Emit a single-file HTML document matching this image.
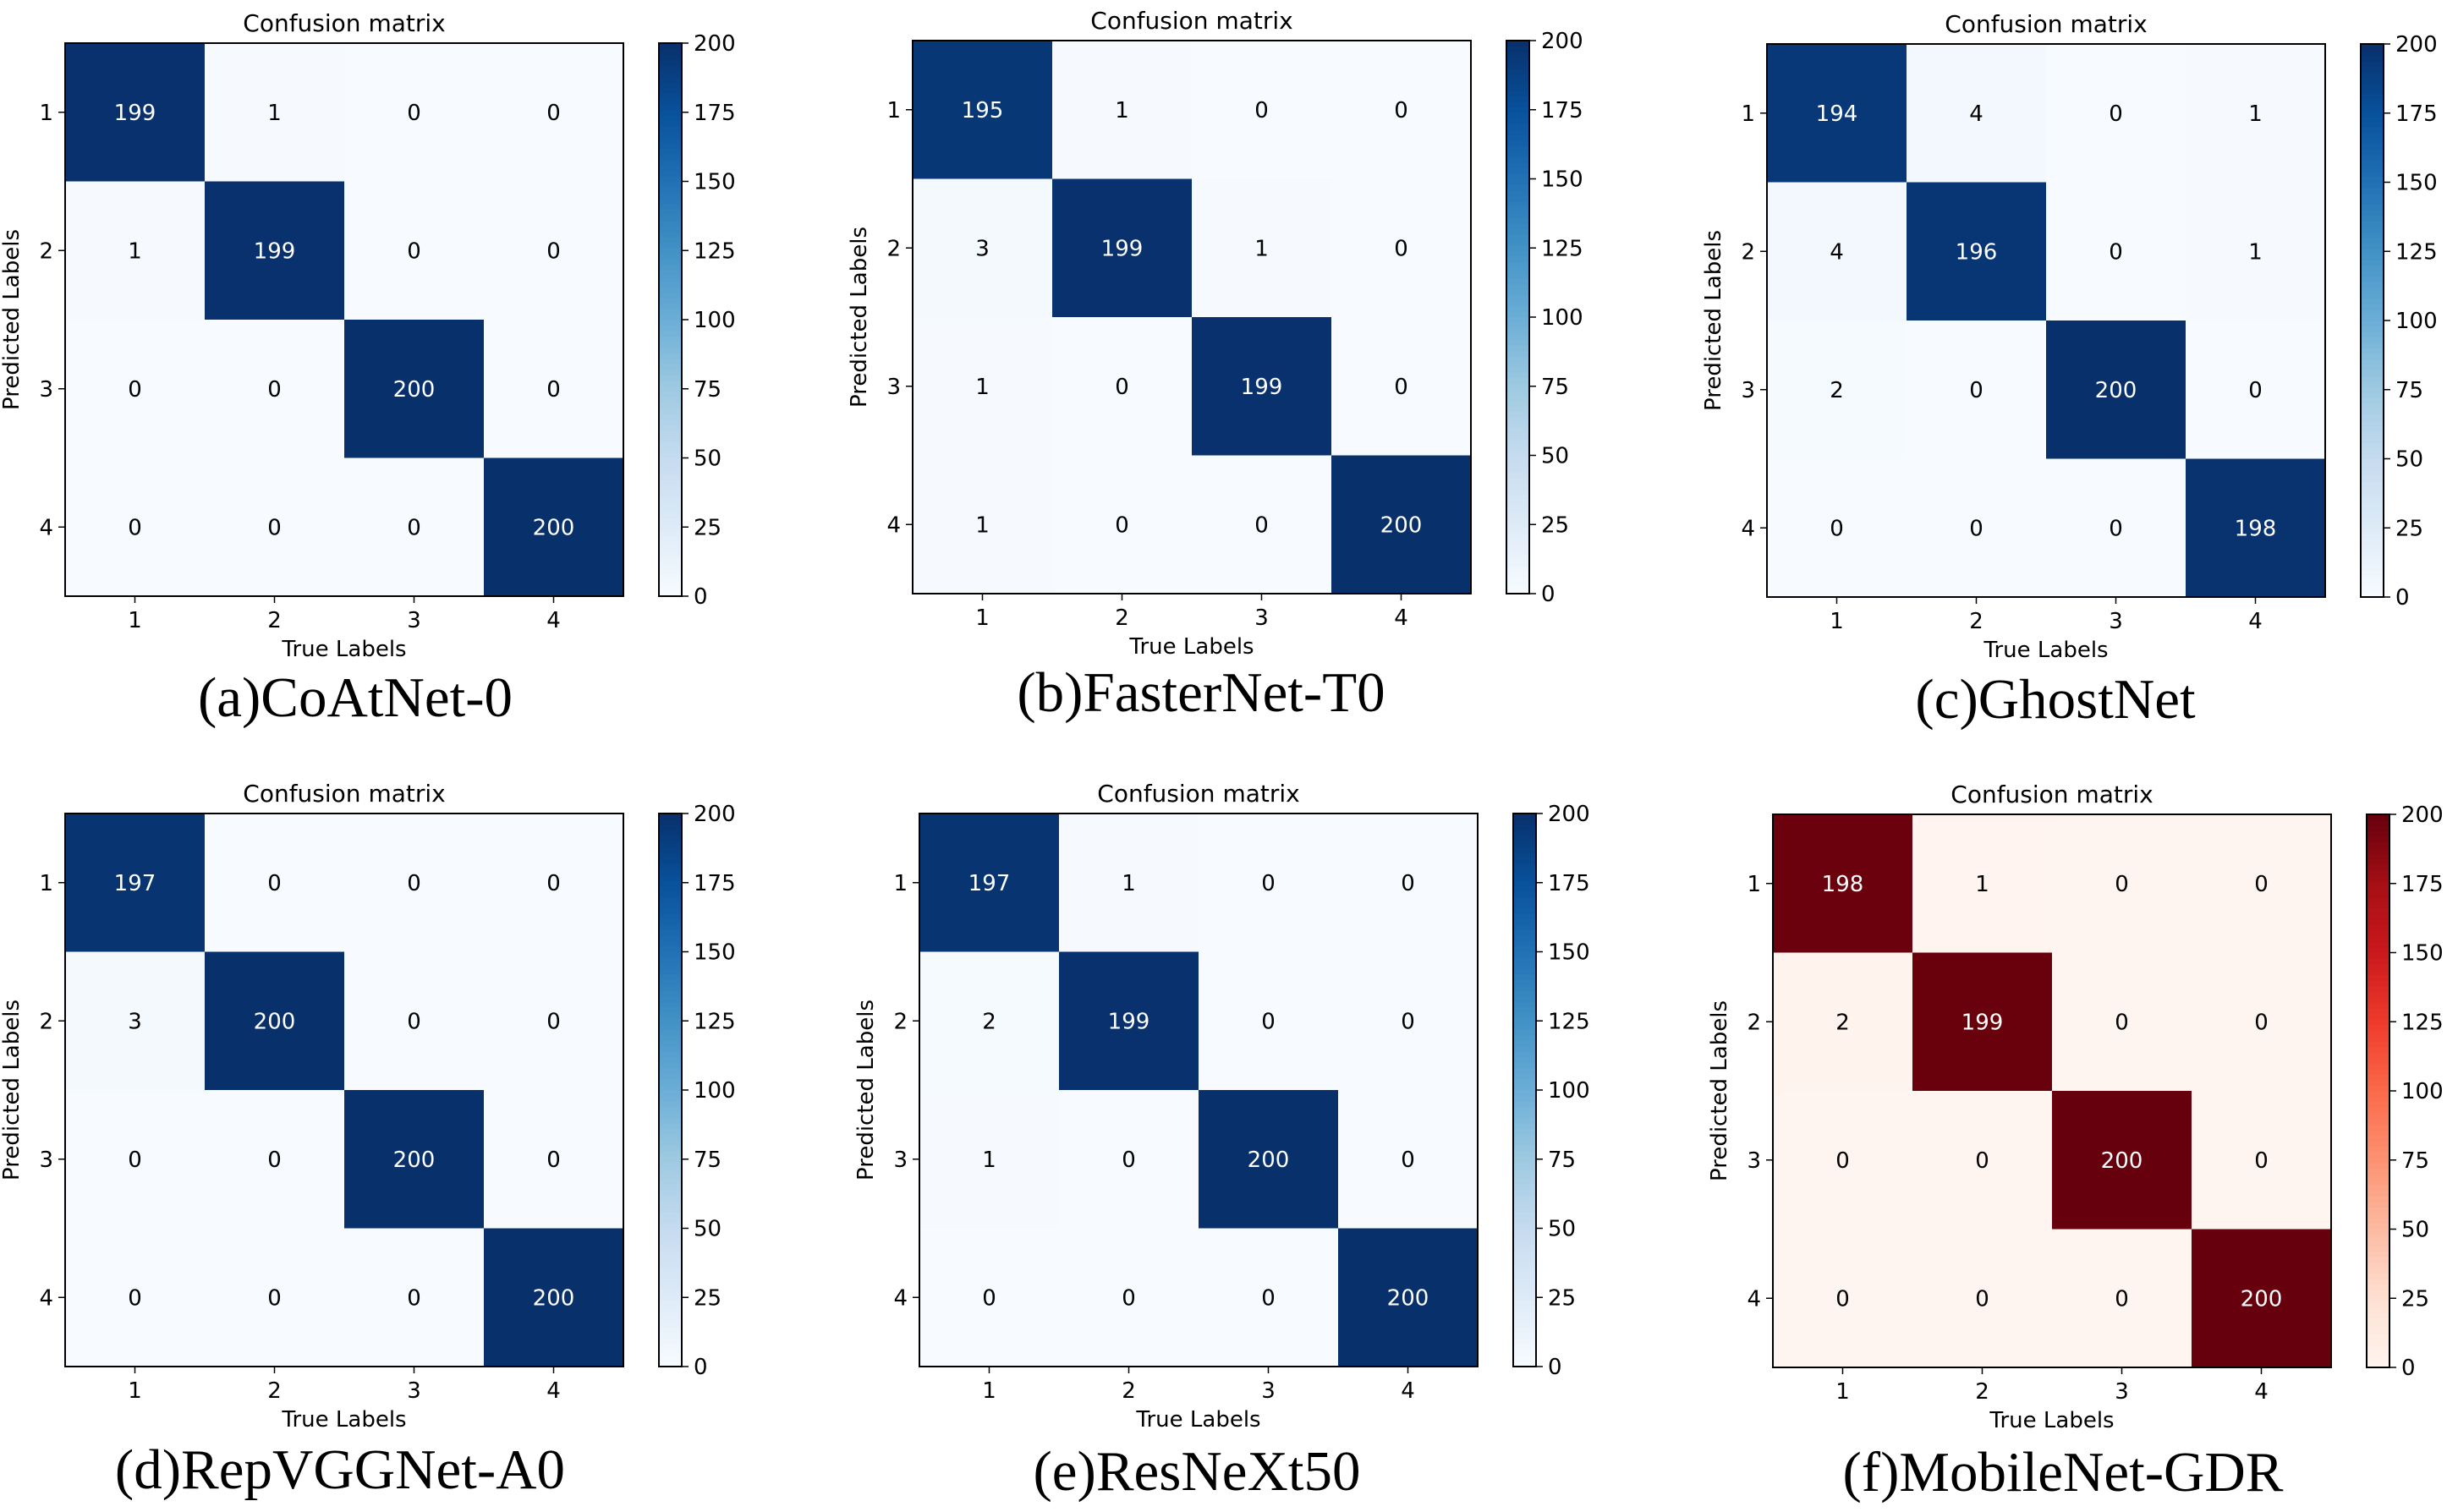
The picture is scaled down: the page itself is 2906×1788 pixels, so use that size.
<!DOCTYPE html>
<html><head><meta charset="utf-8"><style>
html,body{margin:0;padding:0;background:#fff;width:2906px;height:1788px;overflow:hidden}
svg text{font-family:"DejaVu Sans","Liberation Sans",sans-serif}
.cap{font-family:"Liberation Serif",serif !important}
</style></head><body>
<svg id="fig" width="2906" height="1788" xmlns="http://www.w3.org/2000/svg"></svg>
<script>
const categories = ["1","2","3","4"];
const cbTicks = [0,25,50,75,100,125,150,175,200];
const vmax = 200;
const matA = [[199,1,0,0],[1,199,0,0],[0,0,200,0],[0,0,0,200]];
const matB = [[195,1,0,0],[3,199,1,0],[1,0,199,0],[1,0,0,200]];
const matC = [[194,4,0,1],[4,196,0,1],[2,0,200,0],[0,0,0,198]];
const matD = [[197,0,0,0],[3,200,0,0],[0,0,200,0],[0,0,0,200]];
const matE = [[197,1,0,0],[2,199,0,0],[1,0,200,0],[0,0,0,200]];
const matF = [[198,1,0,0],[2,199,0,0],[0,0,200,0],[0,0,0,200]];
const captions = ["(a)CoAtNet-0","(b)FasterNet-T0","(c)GhostNet","(d)RepVGGNet-A0","(e)ResNeXt50","(f)MobileNet-GDR"];

const BLUES=[[247,251,255],[222,235,247],[198,219,239],[158,202,225],[107,174,214],[66,146,198],[33,113,181],[8,81,156],[8,48,107]];
const REDS=[[255,245,240],[254,224,210],[252,187,161],[252,146,114],[251,106,74],[239,59,44],[203,24,29],[165,15,21],[103,0,13]];
function cmap(stops,t){t=Math.max(0,Math.min(1,t));const s=t*(stops.length-1);const i=Math.min(Math.floor(s),stops.length-2);const f=s-i;
 const c=stops[i].map((v,k)=>Math.round(v+(stops[i+1][k]-v)*f));return `rgb(${c[0]},${c[1]},${c[2]})`;}
const NS="http://www.w3.org/2000/svg";const svg=document.getElementById('fig');
function mk(tag,attrs,parent){const e=document.createElementNS(NS,tag);for(const k in attrs)e.setAttribute(k,attrs[k]);(parent||svg).appendChild(e);return e;}

const panels=[
 {m:matA,x:77,y:51,cm:BLUES,cx:420,cy:825,id:'a'},
 {m:matB,x:1079,y:48,cm:BLUES,cx:1420,cy:819,id:'b'},
 {m:matC,x:2089,y:52,cm:BLUES,cx:2430,cy:827,id:'c'},
 {m:matD,x:77,y:962,cm:BLUES,cx:402,cy:1738,id:'d'},
 {m:matE,x:1087,y:962,cm:BLUES,cx:1415,cy:1740,id:'e'},
 {m:matF,x:2096,y:963,cm:REDS,cx:2439,cy:1741,id:'f'}];
const W=660,H=654;
panels.forEach((p,pi)=>{
 const g=mk('g',{});
 
 
 const n=categories.length,cw=W/n,ch=H/n;
 const xs=j=>p.x+j*cw, ys=i=>p.y+i*ch;
 p.m.forEach((row,i)=>row.forEach((v,j)=>{
  const r=mk('rect',{x:xs(j),y:ys(i),width:cw+0.5,height:ch+0.5,fill:cmap(p.cm,v/vmax)},g);
  
  
  const t=mk('text',{x:xs(j)+cw/2,y:ys(i)+ch/2+9,'font-size':26,'text-anchor':'middle',fill:v>vmax/2?'#fff':'#000'},g);
  t.textContent=v;
  
  
 }));
 mk('rect',{x:p.x,y:p.y,width:W,height:H,fill:'none',stroke:'#000','stroke-width':2},g);
 categories.forEach((c,k)=>{
  const tx=xs(k)+cw/2;
  mk('line',{x1:tx,x2:tx,y1:p.y+H,y2:p.y+H+8,stroke:'#000','stroke-width':1.5},g);
  const t=mk('text',{x:tx,y:p.y+H+37,'font-size':26,'text-anchor':'middle'},g);t.textContent=c;
  
  
  const ty=ys(k)+ch/2;
  mk('line',{x1:p.x-8,x2:p.x,y1:ty,y2:ty,stroke:'#000','stroke-width':1.5},g);
  const t2=mk('text',{x:p.x-14,y:ty+9,'font-size':26,'text-anchor':'end'},g);t2.textContent=c;
  
  
 });
 const tt=mk('text',{x:p.x+W/2,y:p.y-14,'font-size':28,'text-anchor':'middle'},g);tt.textContent='Confusion matrix';
 
 
 const xl=mk('text',{x:p.x+W/2,y:p.y+H+71,'font-size':26,'text-anchor':'middle'},g);xl.textContent='True Labels';
 
 
 const yx=p.x-55,yy=p.y+H/2;
 const yl=mk('text',{x:yx,y:yy,'font-size':26,'text-anchor':'middle',transform:`rotate(-90 ${yx} ${yy})`},g);yl.textContent='Predicted Labels';
 
 
 const bx=p.x+W+42,bw=27;
 const cb=mk('g',{},g);
 
 
 const steps=100;
 for(let s=0;s<steps;s++){mk('rect',{x:bx,y:p.y+H-(s+1)*H/steps,width:bw,height:H/steps+0.6,fill:cmap(p.cm,(s+0.5)/steps)},cb);}
 mk('rect',{x:bx,y:p.y,width:bw,height:H,fill:'none',stroke:'#000','stroke-width':2},cb);
 cbTicks.forEach(v=>{const ty=p.y+H-v/vmax*H;
  mk('line',{x1:bx+bw,x2:bx+bw+8,y1:ty,y2:ty,stroke:'#000','stroke-width':1.5},cb);
  const t=mk('text',{x:bx+bw+14,y:ty+9,'font-size':26},cb);t.textContent=v;
  
  
 });
 const cap=mk('text',{x:p.cx,y:p.cy+22,'font-size':67,'text-anchor':'middle',class:'cap'},g);cap.textContent=captions[pi];
 
 
});
</script>
</body></html>
